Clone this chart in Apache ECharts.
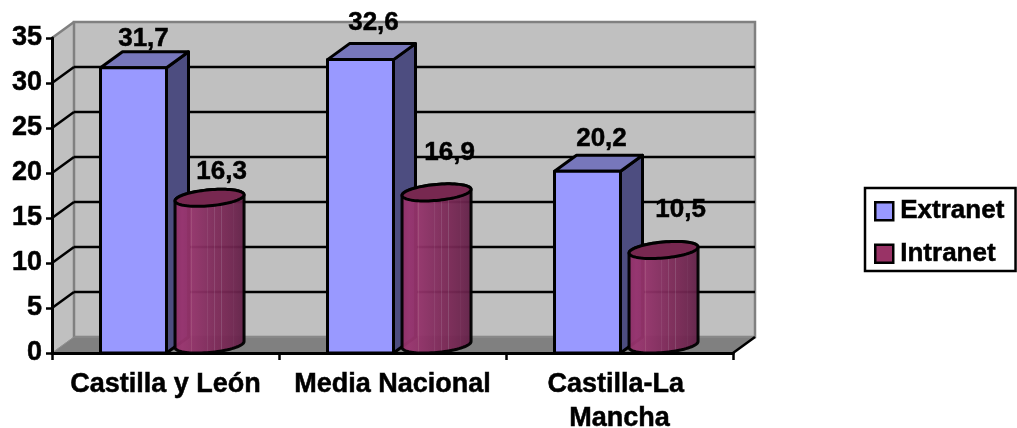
<!DOCTYPE html>
<html>
<head>
<meta charset="utf-8">
<style>html,body{margin:0;padding:0;background:#fff}#c{width:1017px;height:428px}</style>
<script src="https://cdn.jsdelivr.net/npm/echarts@6/dist/echarts.min.js"></script>
</head>
<body>
<div id="c"></div>
<script>
const categories = ['Castilla y León', 'Media Nacional', 'Castilla-La Mancha'];
const extranet = [31.7, 32.6, 20.2];
const intranet = [16.3, 16.9, 10.5];
const yTicks = [0, 5, 10, 15, 20, 25, 30, 35];

const extranetLabelNudge = [[10, -29], [13, -37], [14, -32]];
const intranetLabelNudge = [[12, -26], [13, -40], [17, -40]];

const DX = 22, DY = 16;
const FONT = '"Liberation Sans", Arial, sans-serif';
const fmt = v => v.toFixed(1).replace('.', ',');
const labelEl = (x, y, v) => ({
  type: 'text', z2: 50,
  style: { x, y, text: fmt(v), fill: '#000', stroke: '#000', lineWidth: 0.5, font: 'bold 26px ' + FONT, align: 'center', verticalAlign: 'middle' }
});
const stroke = { stroke: '#000', lineWidth: 3, lineJoin: 'round' };

const chart = echarts.init(document.getElementById('c'), null, { renderer: 'canvas' });

function wallItem(params) {
  const g = params.coordSys;
  const x0 = g.x, x1 = g.x + g.width, yT = g.y, yB = g.y + g.height;
  return { type: 'group', children: [
    { type: 'polygon', shape: { points: [[x0, yB], [x0 + DX, yB - DY], [x0 + DX, yT - DY], [x0, yT]] },
      style: { fill: '#c0c0c0', stroke: '#a0a0a0', lineWidth: 1 } },
    { type: 'rect', shape: { x: x0 + DX, y: yT - DY, width: g.width, height: g.height },
      style: { fill: '#c0c0c0', stroke: '#808080', lineWidth: 2.5 } },
    { type: 'polygon', shape: { points: [[x0, yB], [x0 + DX, yB - DY], [x1 + DX, yB - DY], [x1, yB]] },
      style: { fill: '#808080', stroke: '#909090', lineWidth: 1 } },
    { type: 'line', shape: { x1: x1, y1: yB, x2: x1 + DX, y2: yB - DY }, style: { stroke: '#000', lineWidth: 2.5 } },
    { type: 'line', shape: { x1: x0, y1: yT, x2: x0 + DX, y2: yT - DY }, style: { stroke: '#808080', lineWidth: 2.5 } }
  ] };
}

function gridItem(params, api) {
  const v = api.value(1);
  if (v === 0 || v === 35) return null;
  const g = params.coordSys;
  const y = api.coord([0, v])[1];
  return { type: 'group', children: [
    { type: 'line', shape: { x1: g.x, y1: y, x2: g.x + DX, y2: y - DY }, style: { stroke: '#000', lineWidth: 2.5 } },
    { type: 'line', shape: { x1: g.x + DX, y1: y - DY, x2: g.x + g.width + DX, y2: y - DY }, style: { stroke: '#000', lineWidth: 2.5 } }
  ] };
}

function boxItem(params, api) {
  const i = api.value(0), v = api.value(1);
  const p = api.coord([i, v]), p0 = api.coord([i, 0]);
  const bw = api.size([1, 0])[0];
  const L = p[0] - bw * 0.2863, R = p[0] + bw * 0.0044, T = p[1], B = p0[1];
  const n = extranetLabelNudge[i];
  return { type: 'group', children: [
    { type: 'polygon', shape: { points: [[R, B], [R + DX, B - DY], [R + DX, T - DY], [R, T]] },
      style: Object.assign({ fill: '#4d4d80' }, stroke) },
    { type: 'polygon', shape: { points: [[L, T], [L + DX, T - DY], [R + DX, T - DY], [R, T]] },
      style: Object.assign({ fill: '#7777bb' }, stroke) },
    { type: 'rect', shape: { x: L, y: T, width: R - L, height: B - T },
      style: Object.assign({ fill: '#9999ff' }, stroke) },
    labelEl((L + R) / 2 + n[0], T + n[1], v)
  ] };
}

const cylStops = [
  [0, '#8f3066'], [0.12, '#9a3570'], [0.24, '#93336a'], [0.245, '#a8587f'], [0.255, '#93336a'],
  [0.46, '#852e60'], [0.465, '#9c5a80'], [0.475, '#852e60'], [0.56, '#7f2b5a'], [0.565, '#94527a'],
  [0.575, '#7f2b5a'], [0.66, '#7a2956'], [0.665, '#8a4a70'], [0.675, '#7a2956'], [0.82, '#702650'],
  [0.825, '#80466a'], [0.835, '#702650'], [1, '#5f2046']
].map(s => ({ offset: s[0], color: s[1] }));

function ellipsePts(cx, cy, rx, ry, tilt, from, to, steps) {
  const pts = [];
  for (let k = 0; k <= steps; k++) {
    const t = from + (to - from) * k / steps;
    pts.push([cx + rx * Math.cos(t), cy + ry * Math.sin(t) + tilt * Math.cos(t)]);
  }
  return pts;
}

function cylinderItem(params, api) {
  const i = api.value(0), v = api.value(1);
  const p = api.coord([i, v]), p0 = api.coord([i, 0]);
  const bw = api.size([1, 0])[0];
  const rx = bw * 0.152, ry = 8, tilt = -3, lift = 8.5;
  const cx = p[0] + bw * 0.042 + rx;
  const yT = p[1] - lift, yB = p0[1] - lift;
  const bottom = ellipsePts(cx, yB, rx, ry, tilt, 0, Math.PI, 40);
  const topBack = ellipsePts(cx, yT, rx, ry, tilt, Math.PI, 2 * Math.PI, 40);
  const n = intranetLabelNudge[i];
  return { type: 'group', children: [
    { type: 'polygon', shape: { points: bottom.concat(topBack) },
      style: Object.assign({
        fill: { type: 'linear', x: 0, y: 0, x2: 1, y2: 0, colorStops: cylStops }, opacity: 0.95
      }, stroke) },
    { type: 'polygon', shape: { points: ellipsePts(cx, yT, rx, ry, tilt, 0, 2 * Math.PI, 80) },
      style: Object.assign({ fill: '#772850' }, stroke) },
    labelEl(cx + n[0], yT + n[1], v)
  ] };
}

const axisText = { color: '#000', fontWeight: 'bold', fontSize: 27, fontFamily: FONT, textBorderColor: '#000', textBorderWidth: 0.5 };

chart.setOption({
  animation: false,
  backgroundColor: '#fff',
  textStyle: { fontFamily: FONT },
  grid: { left: 52, right: 284, top: 38, bottom: 75, outerBoundsMode: 'none' },
  xAxis: {
    type: 'category', data: categories, z: 3,
    axisLine: { lineStyle: { color: '#000', width: 3 } },
    axisTick: { show: true, length: 7, lineStyle: { color: '#000', width: 2.5 } },
    axisLabel: Object.assign({ interval: 0, margin: 15, lineHeight: 34, width: 222, overflow: 'break' }, axisText),
    splitLine: { show: false }
  },
  yAxis: {
    type: 'value', min: 0, max: 35, interval: 5, z: 3,
    axisLine: { show: true, lineStyle: { color: '#000', width: 3 } },
    axisTick: { show: true, length: 6, lineStyle: { color: '#000', width: 2.5 } },
    axisLabel: Object.assign({ margin: 10, padding: [4, 0, 0, 0] }, axisText),
    splitLine: { show: false }
  },
  legend: {
    left: 865, top: 188, orient: 'vertical',
    data: ['Extranet', 'Intranet'],
    padding: [10, 11, 4, 9], itemGap: 16, itemWidth: 18, itemHeight: 18,
    icon: 'rect', borderColor: '#000', borderWidth: 2.5, backgroundColor: '#fff',
    itemStyle: { borderColor: '#000', borderWidth: 2.5 },
    textStyle: { color: '#000', fontWeight: 'bold', fontSize: 26, fontFamily: FONT, padding: [0, 0, 0, 2], textBorderColor: '#000', textBorderWidth: 0.5 }
  },
  series: [
    { type: 'custom', name: 'walls', z: 1, silent: true, data: [[0, 0]], renderItem: wallItem },
    { type: 'custom', name: 'gridlines', z: 2, silent: true, data: yTicks.map(t => [0, t]), renderItem: gridItem },
    { type: 'custom', name: 'Extranet', z: 4, itemStyle: { color: '#9999ff' },
      data: extranet.map((v, i) => [i, v]), renderItem: boxItem },
    { type: 'custom', name: 'Intranet', z: 5, itemStyle: { color: '#993366' },
      data: intranet.map((v, i) => [i, v]), renderItem: cylinderItem }
  ]
});
</script>
</body>
</html>
